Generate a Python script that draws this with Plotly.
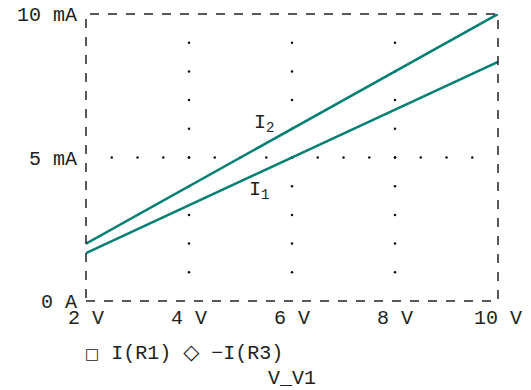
import plotly.graph_objects as go

# Data
v_sweep = [2, 4, 6, 8, 10]                  # V_V1 (V)
i_r1 = [1.667, 3.333, 5.0, 6.667, 8.333]    # I1 (mA)
i_r3 = [2.0, 4.0, 6.0, 8.0, 10.0]           # I2 (mA)

x_ticks = [2, 4, 6, 8, 10]
x_tick_labels = ["2 V", "4 V", "6 V", "8 V", "10 V"]
y_ticks = [0, 5, 10]
y_tick_labels = ["0 A", "5 mA", "10 mA"]
x_title = "V_V1"
legend_names = ["I(R1)", "−I(R3)"]

# grid dots
grid_vx = [4, 6, 8]
grid_vy = [1, 2, 3, 4, 5, 6, 7, 8, 9]
grid_hx = [2.5, 3, 3.5, 4, 4.5, 5, 5.5, 6, 6.5, 7, 7.5, 8, 8.5, 9, 9.5]
grid_hy = 5

FONT = "Liberation Mono, Courier New, monospace"
SYM = "DejaVu Sans"
TEAL = "#007f74"
TXT = "#222"
FS = 20

W, H = 531, 390
L, R, T, B = 86, 33, 14, 89
PW, PH = W - L - R, H - T - B


def px_to_paper(px, py):
    return (px - L) / PW, (H - B - py) / PH


fig = go.Figure()

gx, gy = [], []
for x in grid_vx:
    for y in grid_vy:
        gx.append(x); gy.append(y)
for x in grid_hx:
    gx.append(x); gy.append(grid_hy)
fig.add_trace(go.Scatter(x=gx, y=gy, mode="markers",
                         marker=dict(size=2.5, color="#111"), hoverinfo="skip"))

fig.add_trace(go.Scatter(x=v_sweep, y=i_r1, mode="lines", name=legend_names[0],
                         line=dict(color=TEAL, width=2.5)))
fig.add_trace(go.Scatter(x=v_sweep, y=i_r3, mode="lines", name=legend_names[1],
                         line=dict(color=TEAL, width=2.5)))

fig.add_shape(type="rect", xref="paper", yref="paper", x0=0, y0=0, x1=1, y1=1,
              line=dict(color="#222", width=1.5, dash="dash"))

fig.add_annotation(x=5.45, y=6.2, xref="x", yref="y", text="I<sub>2</sub>",
                   showarrow=False, font=dict(family=FONT, size=FS, color=TXT))
fig.add_annotation(x=5.35, y=3.85, xref="x", yref="y", text="I<sub>1</sub>",
                   showarrow=False, font=dict(family=FONT, size=FS, color=TXT))

legend_text = (f"<span style='font-family:{SYM};font-size:15px'>□</span> {legend_names[0]} "
               f"<span style='font-family:{SYM};font-size:21px'>◇</span> {legend_names[1]}")
lx, ly = px_to_paper(83, 352)
fig.add_annotation(x=lx, y=ly, xref="paper", yref="paper", text=legend_text,
                   showarrow=False, xanchor="left", yanchor="middle",
                   font=dict(family=FONT, size=FS, color=TXT))

tx, ty = px_to_paper(292, 378)
fig.add_annotation(x=tx, y=ty, xref="paper", yref="paper", text=x_title,
                   showarrow=False, xanchor="center", yanchor="middle",
                   font=dict(family=FONT, size=FS, color=TXT))

fig.update_layout(
    width=W, height=H,
    margin=dict(l=L, r=R, t=T, b=B),
    paper_bgcolor="white", plot_bgcolor="white",
    showlegend=False,
    hovermode=False,
    font=dict(family=FONT, size=FS, color=TXT),
    xaxis=dict(range=[2, 10], tickvals=x_ticks, ticktext=x_tick_labels,
               showgrid=False, zeroline=False, showline=False, ticks="",
               automargin=False, ticklabelstandoff=2, ticklabeloverflow="allow",
               tickfont=dict(family=FONT, size=FS, color=TXT)),
    yaxis=dict(range=[0, 10], tickvals=y_ticks, ticktext=y_tick_labels,
               showgrid=False, zeroline=False, showline=False, ticks="",
               automargin=False, ticklabelstandoff=8, ticklabeloverflow="allow",
               tickfont=dict(family=FONT, size=FS, color=TXT)),
)

fig.write_html("out.html", config={"displayModeBar": False},
               post_script="document.body.style.margin='0';")
